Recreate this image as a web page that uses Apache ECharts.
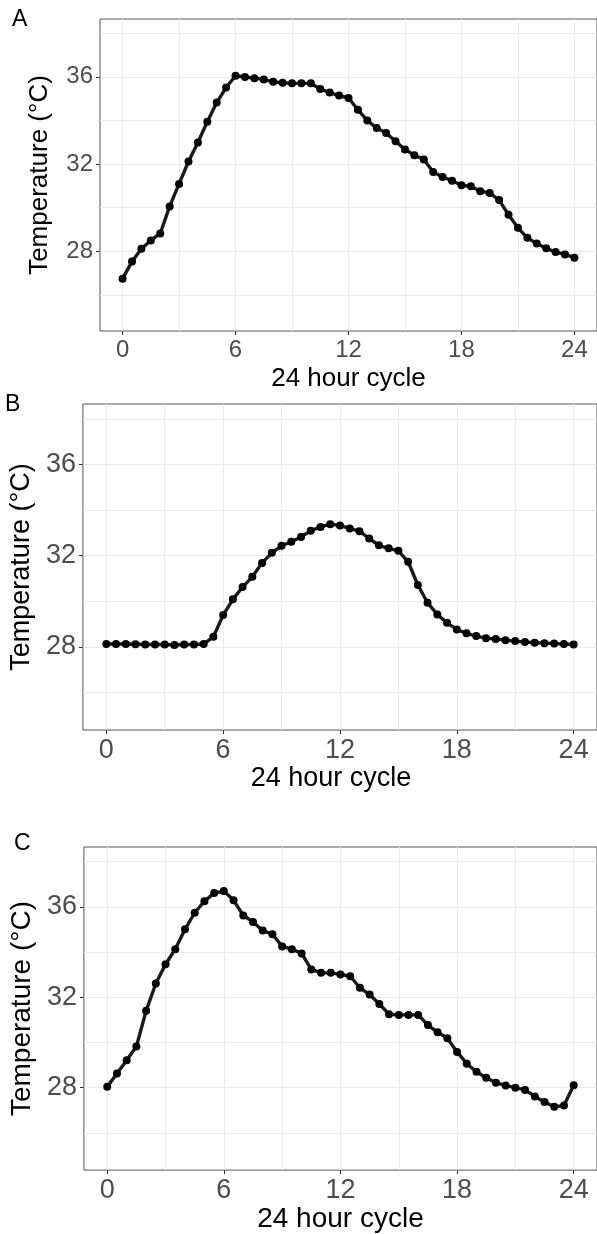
<!DOCTYPE html>
<html lang="en">
<head>
<meta charset="UTF-8">
<title>24 hour temperature cycle</title>
<script src="https://cdn.jsdelivr.net/npm/echarts@6/dist/echarts.min.js"></script>
<style>
    body, html { margin: 0; padding: 0; background: #ffffff; }
    #main { width: 597px; height: 1234px; }
</style>
</head>
<body>
<div id="main"></div>
<script>
    // half-hour readings over the 24 h cycle
    var hours = [0, 0.5, 1, 1.5, 2, 2.5, 3, 3.5, 4, 4.5, 5, 5.5, 6, 6.5, 7, 7.5, 8, 8.5, 9, 9.5, 10, 10.5, 11, 11.5,
                 12, 12.5, 13, 13.5, 14, 14.5, 15, 15.5, 16, 16.5, 17, 17.5, 18, 18.5, 19, 19.5, 20, 20.5, 21, 21.5,
                 22, 22.5, 23, 23.5, 24];

    var tempA = [26.75, 27.53, 28.12, 28.5, 28.82, 30.06, 31.09, 32.12, 32.99, 33.94, 34.82, 35.51, 36.05,
                 35.99, 35.94, 35.88, 35.77, 35.73, 35.7, 35.7, 35.7, 35.44, 35.28, 35.14, 35.03,
                 34.49, 34.0, 33.65, 33.42, 33.05, 32.67, 32.41, 32.21, 31.64, 31.41, 31.24, 31.03,
                 30.98, 30.76, 30.68, 30.35, 29.68, 29.08, 28.62, 28.36, 28.14, 27.97, 27.86, 27.71];

    var tempB = [28.12, 28.12, 28.12, 28.11, 28.1, 28.1, 28.1, 28.08, 28.1, 28.1, 28.12, 28.44, 29.39,
                 30.08, 30.62, 31.07, 31.68, 32.12, 32.43, 32.61, 32.82, 33.09, 33.26, 33.38, 33.32,
                 33.19, 33.07, 32.75, 32.45, 32.32, 32.21, 31.73, 30.71, 29.93, 29.42, 29.05, 28.76,
                 28.59, 28.47, 28.38, 28.34, 28.29, 28.25, 28.21, 28.18, 28.16, 28.14, 28.12, 28.1];

    var tempC = [28.04, 28.63, 29.21, 29.82, 31.4, 32.61, 33.46, 34.13, 35.01, 35.74, 36.25, 36.61, 36.7,
                 36.29, 35.62, 35.33, 34.95, 34.79, 34.25, 34.13, 33.94, 33.23, 33.08, 33.08, 33.01,
                 32.93, 32.42, 32.12, 31.7, 31.25, 31.22, 31.22, 31.22, 30.77, 30.45, 30.19, 29.58,
                 29.06, 28.7, 28.44, 28.22, 28.09, 28.0, 27.9, 27.61, 27.36, 27.15, 27.21, 28.11];

    var panelLetters = ["A", "B", "C"];
    var xLabelTicks = [0, 6, 12, 18, 24];
    var xGridTicks = [0, 3, 6, 9, 12, 15, 18, 21, 24];
    var yLabelTicks = [28, 32, 36];
    var yGridTicks = [26, 28, 30, 32, 34, 36, 38];

    var xTitle = "24 hour cycle";
    var yTitle = "Temperature (°C)";

    // panel boxes, tick font sizes and label spots
    var panels = [
        { data: tempA, left: 100, top: 19, width: 501.5, height: 312, tickFont: 24, titleFont: 26, yGap: 47, xGap: 35, xPad: [0, 0, 0, 0], letter: [12, 8] },
        { data: tempB, left: 78.3, top: 404, width: 523.5, height: 326, tickFont: 27, titleFont: 27, yGap: 45, xGap: 33, xPad: [0, 18, 0, 0], letter: [5, 393] },
        { data: tempC, left: 78, top: 847, width: 523, height: 325, tickFont: 27, titleFont: 28, yGap: 45, xGap: 30, xPad: [0, 0, 0, 0], letter: [14, 832] }
    ];

    var font = "'Liberation Sans', Arial, sans-serif";
    var chart = echarts.init(document.getElementById("main"));

    var grids = [], xAxes = [], yAxes = [], series = [], graphics = [];

    panels.forEach(function (p, i) {
        grids.push({
            left: p.left, top: p.top, width: p.width, height: p.height,
            show: true, borderColor: "#555555", borderWidth: 1, backgroundColor: "transparent"
        });

        // axis carrying labels + ticks
        xAxes.push({
            type: "value", gridIndex: i, min: -1.2, max: 25.2, position: "bottom",
            axisLine: { show: false, onZero: false },
            axisTick: { show: true, customValues: xLabelTicks, length: 4, lineStyle: { color: "#333333" } },
            axisLabel: { customValues: xLabelTicks, fontSize: p.tickFont, color: "#4d4d4d", fontFamily: font, margin: 7 },
            splitLine: { show: false },
            name: xTitle, nameLocation: "middle", nameGap: p.xGap,
            nameTextStyle: { fontSize: p.titleFont, color: "#000000", fontFamily: font, padding: p.xPad }
        });
        // axis carrying the grid lines only
        xAxes.push({
            type: "value", gridIndex: i, min: -1.2, max: 25.2, position: "bottom",
            axisLine: { show: false, onZero: false },
            axisTick: { show: false, customValues: xGridTicks },
            axisLabel: { show: false, customValues: xGridTicks },
            splitLine: { show: true, lineStyle: { color: "#ebebeb", width: 1 } }
        });

        yAxes.push({
            type: "value", gridIndex: i, min: 24.35, max: 38.65, position: "left",
            axisLine: { show: false, onZero: false },
            axisTick: { show: true, customValues: yLabelTicks, length: 4, lineStyle: { color: "#333333" } },
            axisLabel: { customValues: yLabelTicks, fontSize: p.tickFont, color: "#4d4d4d", fontFamily: font, margin: 7 },
            splitLine: { show: false },
            name: yTitle, nameLocation: "middle", nameGap: p.yGap, nameRotate: 90,
            nameTextStyle: { fontSize: p.titleFont, color: "#000000", fontFamily: font }
        });
        yAxes.push({
            type: "value", gridIndex: i, min: 24.35, max: 38.65, position: "left",
            axisLine: { show: false, onZero: false },
            axisTick: { show: false, customValues: yGridTicks },
            axisLabel: { show: false, customValues: yGridTicks },
            splitLine: { show: true, lineStyle: { color: "#ebebeb", width: 1 } }
        });

        series.push({
            type: "line",
            xAxisIndex: 2 * i, yAxisIndex: 2 * i,
            data: hours.map(function (h, j) { return [h, p.data[j]]; }),
            symbol: "circle", symbolSize: 8,
            lineStyle: { color: "#1a1a1a", width: 3.4 },
            itemStyle: { color: "#000000" },
            z: 5
        });

        graphics.push({
            type: "text", left: p.letter[0], top: p.letter[1],
            style: { text: panelLetters[i], fontSize: 23, fill: "#000000", fontFamily: font }
        });
    });

    var option = {
        animation: false,
        backgroundColor: "#ffffff",
        grid: grids,
        xAxis: xAxes,
        yAxis: yAxes,
        series: series,
        graphic: graphics
    };

    chart.setOption(option);
</script>
</body>
</html>
